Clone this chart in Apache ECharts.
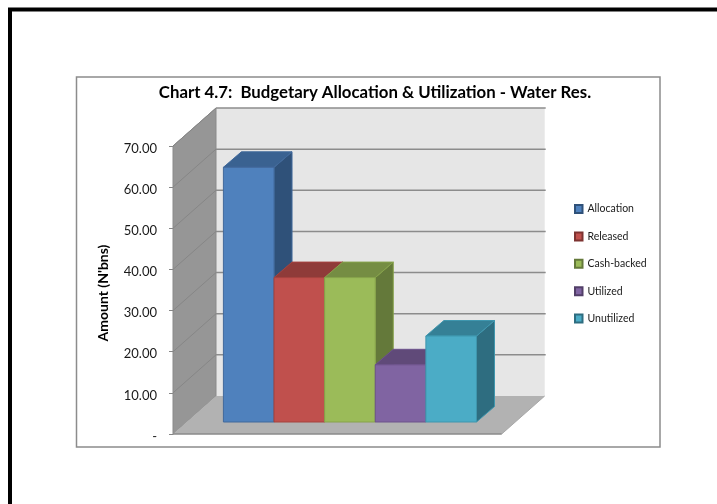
<!DOCTYPE html>
<html><head><meta charset="utf-8">
<style>html,body{margin:0;padding:0;background:#fff}#c{width:717px;height:504px}</style>
<script src="https://cdn.jsdelivr.net/npm/echarts@6/dist/echarts.min.js"></script>
</head><body><div id="c"></div>
<script>
const titleText = "Chart 4.7:  Budgetary Allocation & Utilization - Water Res.";
const axisTitle = "Amount (N'bns)";
const categories = [""];
const allocation = [61.9];
const released = [35.1];
const cashBacked = [35.1];
const utilized = [13.9];
const unutilized = [20.9];
const yMin = 0, yMax = 70, yStep = 10;

const seriesNames = ["Allocation","Released","Cash-backed","Utilized","Unutilized"];
const seriesValues = [allocation,released,cashBacked,utilized,unutilized];
const front = ["#4f81bd","#c0504d","#9bbb59","#8064a2","#4bacc6"];
const top3d = ["#3a6291","#8f3b39","#758d43","#604a79","#358096"];
const side3d = ["#2f5179","#7d3331","#64793a","#523f68","#2e6d80"];
const edge = ["#41699b","#a5433f","#86a24a","#6c528b","#3f96ae"];

const WALL = {dx:43, dy:-38};      // depth of the floor
const PLANE = {dx:13.6, dy:-12};   // front plane of the bars
const BAR = {dx:18, dy:-15.5};     // depth of a bar
const CLUSTER = 0.77;

function wallItem(params, api){
  const r = params.coordSys, k = [];
  const L = r.x, R = r.x+r.width, B = r.y+r.height, T = r.y;
  const d = WALL;
  const poly = (pts, fill, stroke, lw)=>({type:'polygon',shape:{points:pts},style:{fill,stroke:stroke||null,lineWidth:lw||0}});
  const line = (a,b,c,lw)=>({type:'line',shape:{x1:a[0],y1:a[1],x2:b[0],y2:b[1]},style:{stroke:c,lineWidth:lw}});
  k.push(poly([[L+d.dx,T+d.dy],[R+d.dx,T+d.dy],[R+d.dx,B+d.dy],[L+d.dx,B+d.dy]],'#e6e6e6'));
  k.push(poly([[L,T],[L+d.dx,T+d.dy],[L+d.dx,B+d.dy],[L,B]],'#969696','#8a8a8a',1));
  k.push(poly([[L,B],[L+d.dx,B+d.dy],[R+d.dx,B+d.dy],[R,B]],'#b2b2b2'));
  k.push(line([L,B],[R,B],'#8a8a8a',1.5));
  k.push(line([R,B],[R+d.dx,B+d.dy],'#a8a8a8',1));
  for(let v=yMin+yStep; v<=yMax; v+=yStep){
    const y = api.coord([0,v])[1];
    k.push(line([L,y],[L+d.dx,y+d.dy],'#868686',1));
    k.push(line([L+d.dx,y+d.dy],[R+d.dx+1,y+d.dy],'#8c8c8c',1.5));
  }
  return {type:'group',children:k};
}
function barItem(idx){
  return function(params, api){
    const r = params.coordSys;
    const c0 = api.coord([0,0]), c1 = api.coord([0,api.value(1)]);
    const w = r.width*CLUSTER/seriesNames.length;
    const x0 = c0[0]+PLANE.dx-1-w*seriesNames.length/2+idx*w, x1 = x0+w;
    const yb = c0[1]+PLANE.dy, yt = c1[1]+PLANE.dy;
    const s = {lineWidth:1, lineJoin:'round'};
    const P = (pts,fill)=>({type:'polygon',shape:{points:pts},style:Object.assign({fill,stroke:edge[idx]},s)});
    return {type:'group',children:[
      P([[x1,yb],[x1+BAR.dx,yb+BAR.dy],[x1+BAR.dx,yt+BAR.dy],[x1,yt]],side3d[idx]),
      P([[x0,yt],[x0+BAR.dx,yt+BAR.dy],[x1+BAR.dx,yt+BAR.dy],[x1,yt]],top3d[idx]),
      P([[x0,yb],[x1,yb],[x1,yt],[x0,yt]],front[idx])
    ]};
  };
}

const chart = echarts.init(document.getElementById('c'),null,{renderer:'canvas'});
const series = [{
  type:'custom', name:'walls', silent:true, z:1, renderItem:wallItem,
  data:[[0,0]], encode:{x:0,y:1}, clip:false
}];
seriesNames.forEach((n,i)=>series.push({
  type:'custom', name:n, z:2+i, renderItem:barItem(i), clip:false,
  itemStyle:{color:front[i],borderColor:side3d[i],borderWidth:1},
  data:[[0,seriesValues[i][0]]], encode:{x:0,y:1}
}));
chart.setOption({
  animation:false,
  backgroundColor:'#fff',
  title:{text:titleText,left:370,top:78.5,textAlign:'center',
    textStyle:{fontFamily:'Lato',fontWeight:'bold',fontSize:16.8,color:'#000',lineHeight:18}},
  legend:{orient:'vertical',left:574,top:203,padding:0,icon:'rect',itemWidth:7.5,itemHeight:8,itemGap:15.4,
    data:seriesNames,selectedMode:false,
    textStyle:{fontFamily:'Lato',fontSize:10.5,color:'#1a1a1a',lineHeight:12}},
  grid:{left:173,top:146,width:328.7,height:288,containLabel:false},
  xAxis:{type:'category',data:categories,axisLabel:{show:false},axisTick:{show:false},axisLine:{show:false},splitLine:{show:false}},
  yAxis:{type:'value',min:yMin,max:yMax,interval:yStep,
    name:axisTitle,nameLocation:'middle',nameGap:63,nameRotate:90,
    nameTextStyle:{fontFamily:'Lato',fontWeight:'bold',fontSize:14,color:'#000',padding:[0,6,0,0]},
    axisLine:{show:true,lineStyle:{color:'#868686',width:1}},
    axisTick:{show:true,length:4,lineStyle:{color:'#868686',width:1}},
    splitLine:{show:false},
    axisLabel:{margin:16,fontFamily:'Lato',fontSize:13,color:'#1a1a1a',verticalAlign:'top',lineHeight:5,
      formatter:v=>v===0?'-':v.toFixed(2)}},
  series,
  graphic:[
    {type:'rect',z:-1,silent:true,shape:{x:76.5,y:77,width:583.5,height:370},style:{fill:'#fff',stroke:'#8c8c8c',lineWidth:1.5}},
    {type:'polyline',z:-1,silent:true,shape:{points:[[10,504],[10,9.5],[717,9.5]]},style:{fill:null,stroke:'#000',lineWidth:4}}
  ]
});
</script></body></html>
